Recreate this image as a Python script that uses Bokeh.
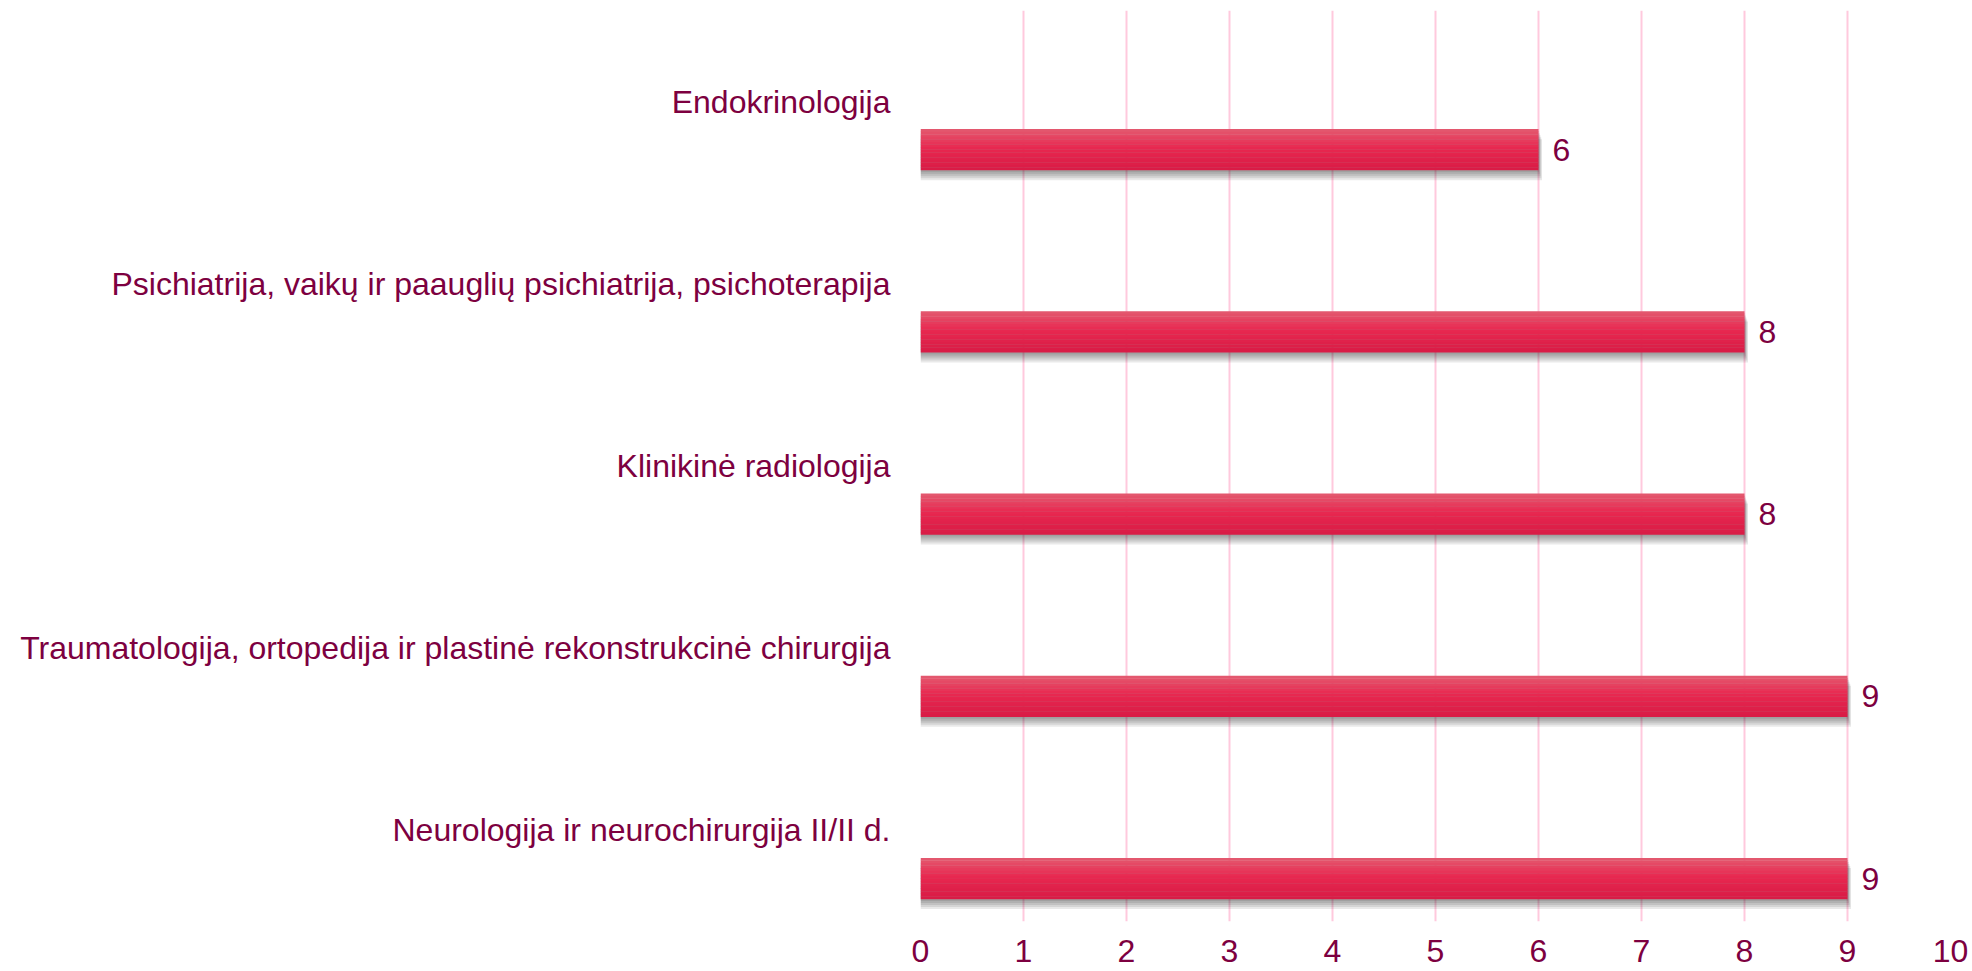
from bokeh.plotting import figure
from bokeh.models import FactorRange, Range1d, FixedTicker, ColumnDataSource
from bokeh.transform import dodge
from bokeh.core.properties import value
from bokeh.embed import file_html
from bokeh.resources import INLINE

# ---- data (bottom to top) ----
categories = [
    "Neurologija ir neurochirurgija II/II d.",
    "Traumatologija, ortopedija ir plastinė rekonstrukcinė chirurgija",
    "Klinikinė radiologija",
    "Psichiatrija, vaikų ir paauglių psichiatrija, psichoterapija",
    "Endokrinologija",
]
values = [9, 9, 8, 8, 6]
x_ticks = [0, 1, 2, 3, 4, 5, 6, 7, 8, 9, 10]

FONT = "Liberation Sans"
TXT = "#7D0040"
GRID = "#FFC9DD"

src = ColumnDataSource(dict(cat=categories, value=values, label=[str(v) for v in values]))

p = figure(width=1972, height=971,
           y_range=FactorRange(factors=categories, range_padding=0),
           x_range=Range1d(0, 10),
           output_backend="svg", toolbar_location=None,
           min_border_left=920, min_border_right=22,
           min_border_top=10, min_border_bottom=50)
p.outline_line_color = None
p.background_fill_color = "white"
p.border_fill_color = "white"

# grid
p.ygrid.grid_line_color = None
p.xgrid.grid_line_color = GRID
p.xgrid.grid_line_width = 2
p.xaxis.ticker = FixedTicker(ticks=x_ticks)

# axes
for ax in (p.xaxis[0], p.yaxis[0]):
    ax.axis_line_color = None
    ax.major_tick_line_color = None
    ax.minor_tick_line_color = None
    ax.major_tick_out = 0
    ax.major_tick_in = 0
    ax.minor_tick_out = 0
    ax.major_label_text_font = FONT
    ax.major_label_text_font_size = "32px"
    ax.major_label_text_color = TXT
p.xaxis.major_label_standoff = 18
p.xaxis.major_label_text_line_height = 0.8
p.yaxis.major_label_standoff = 30

BAR_OFF = -0.264
BAR_H = 0.225
PX_Y = 1 / 182.2
PX_X = 1 / 103.0

# shadow layers
for k in range(1, 6):
    p.hbar(y=dodge("cat", BAR_OFF - k * 2 * PX_Y, range=p.y_range), height=BAR_H,
           left=0, right=dodge("value", k * 0.7 * PX_X), source=src,
           fill_color="black", fill_alpha=0.085, line_color=None)

# gradient bar slices
def lerp(c1, c2, t):
    return tuple(int(round(a + (b - a) * t)) for a, b in zip(c1, c2))

top_c = (227, 90, 112)
mid_c = (232, 40, 80)
bot_c = (216, 27, 69)
N = 16
for k in range(N):
    t = (k + 0.5) / N
    if t < 0.45:
        c = lerp(top_c, mid_c, t / 0.45)
    else:
        c = lerp(mid_c, bot_c, (t - 0.45) / 0.55)
    col = "#%02x%02x%02x" % c
    off = BAR_OFF + BAR_H / 2 - (k + 0.5) * BAR_H / N
    p.hbar(y=dodge("cat", off, range=p.y_range), height=BAR_H / N * 1.1,
           left=0, right="value", source=src,
           fill_color=col, line_color=None)

# value labels
p.text(x="value", y=dodge("cat", BAR_OFF, range=p.y_range), text="label", source=src,
       x_offset=14, text_baseline="middle", text_align="left",
       text_font=value(FONT), text_font_size="32px", text_color=TXT)

open("out.html", "w").write(file_html(p, INLINE))
